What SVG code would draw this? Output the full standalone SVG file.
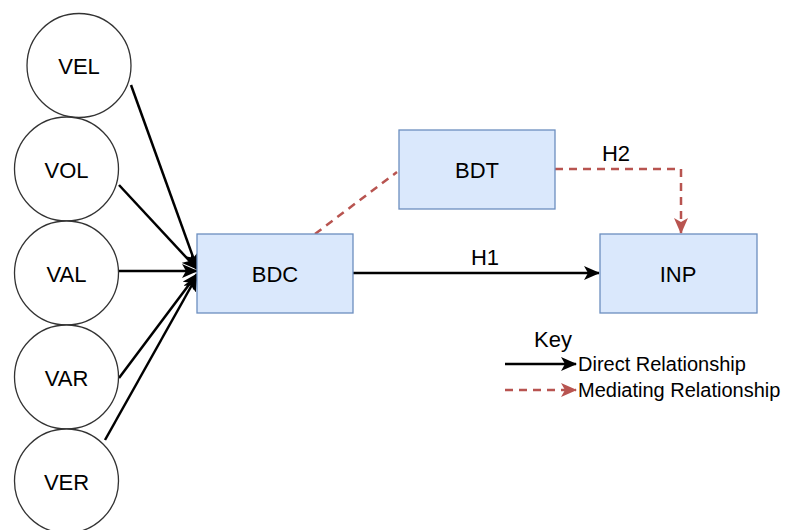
<svg xmlns="http://www.w3.org/2000/svg" width="787" height="530" viewBox="0 0 787 530">
  <style>
    .circ { fill: #ffffff; stroke: #333333; stroke-width: 1.3; }
    .box { fill: #dae8fc; stroke: #6c8ebf; stroke-width: 1.3; }
    .lbl { font-family: "Liberation Sans", Arial, sans-serif; font-size: 22px; fill: #000000; text-anchor: middle; dominant-baseline: central; }
    .key { font-family: "Liberation Sans", Arial, sans-serif; font-size: 20px; fill: #000000; dominant-baseline: central; }
    .direct { fill: none; stroke: #000000; stroke-width: 2.5; }
    .mediate { fill: none; stroke: #b85450; stroke-width: 2.5; stroke-dasharray: 8 6; }
  </style>
  <defs>
    <marker id="arrowBlack" viewBox="0 0 16 14" refX="15" refY="7" markerWidth="16" markerHeight="14" markerUnits="userSpaceOnUse" orient="auto">
      <path d="M0,0 L16,7 L0,14 L4,7 z" fill="#000000"/>
    </marker>
    <marker id="arrowRed" viewBox="0 0 16 14" refX="15" refY="7" markerWidth="16" markerHeight="14" markerUnits="userSpaceOnUse" orient="auto">
      <path d="M0,0 L16,7 L0,14 L4,7 z" fill="#b85450"/>
    </marker>
  </defs>

  <!-- connectors -->
  <g id="connectors">
    <line class="direct" x1="131" y1="85" x2="197" y2="268" marker-end="url(#arrowBlack)"/>
    <line class="direct" x1="119" y1="185" x2="197" y2="269" marker-end="url(#arrowBlack)"/>
    <line class="direct" x1="119" y1="271" x2="197" y2="271" marker-end="url(#arrowBlack)"/>
    <line class="direct" x1="119" y1="378" x2="197" y2="274" marker-end="url(#arrowBlack)"/>
    <line class="direct" x1="105" y1="440" x2="197" y2="276" marker-end="url(#arrowBlack)"/>
    <line class="direct" x1="353" y1="273" x2="599" y2="273" marker-end="url(#arrowBlack)"/>
    <line class="mediate" x1="315" y1="234" x2="397" y2="172"/>
    <polyline class="mediate" points="555,169 681,169 681,233" marker-end="url(#arrowRed)"/>
    <text class="lbl" x="485" y="257">H1</text>
    <text class="lbl" x="616" y="153">H2</text>
  </g>

  <!-- construct circles -->
  <g id="VEL"><circle class="circ" cx="79" cy="65.5" r="52"/><text class="lbl" x="79" y="66">VEL</text></g>
  <g id="VOL"><circle class="circ" cx="66.5" cy="169" r="52"/><text class="lbl" x="66.5" y="170">VOL</text></g>
  <g id="VAL"><circle class="circ" cx="66.5" cy="273" r="52"/><text class="lbl" x="66.5" y="274">VAL</text></g>
  <g id="VAR"><circle class="circ" cx="66.5" cy="377" r="52"/><text class="lbl" x="66.5" y="378">VAR</text></g>
  <g id="VER"><circle class="circ" cx="66.5" cy="481" r="52"/><text class="lbl" x="66.5" y="482">VER</text></g>

  <!-- process boxes -->
  <g id="BDC"><rect class="box" x="197" y="234" width="156" height="79"/><text class="lbl" x="275" y="274">BDC</text></g>
  <g id="BDT"><rect class="box" x="399" y="130" width="156" height="79"/><text class="lbl" x="477" y="170">BDT</text></g>
  <g id="INP"><rect class="box" x="600" y="234" width="157" height="79"/><text class="lbl" x="678" y="274">INP</text></g>

  <!-- legend -->
  <g id="legend">
    <text class="lbl" x="553" y="339">Key</text>
    <line class="direct" x1="505" y1="364" x2="576" y2="364" marker-end="url(#arrowBlack)"/>
    <text class="key" x="578" y="364">Direct Relationship</text>
    <line class="mediate" x1="505" y1="390" x2="576" y2="390" marker-end="url(#arrowRed)"/>
    <text class="key" x="578" y="390">Mediating Relationship</text>
  </g>
</svg>
